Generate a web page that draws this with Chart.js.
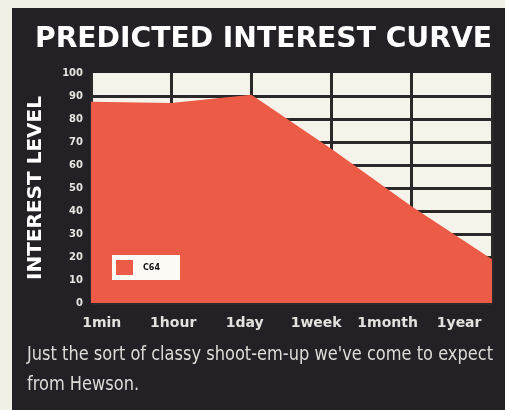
<!DOCTYPE html>
<html>
<head>
<meta charset="utf-8">
<title>Predicted interest curve</title>
<script src="https://cdn.jsdelivr.net/npm/chart.js@4"></script>
<style>
  html, body { margin: 0; padding: 0; background: #f3f0e6; }
  #curve { display: block; }
</style>
</head>
<body>
<canvas id="curve" width="505" height="410"></canvas>
<script>
const timeLabels = ['1min', '1hour', '1day', '1week', '1month', '1year'];
const interestC64 = [87.5, 87, 90.5, 67, 42, 19];
const levelMin = 0;
const levelMax = 100;
const levelStep = 10;
const caption = ['Just the sort of classy shoot-em-up we\'ve come to expect', 'from Hewson.'];

const PANEL = '#232126';
const PAPER = '#f5f3ea';
const RED = '#ec5b45';
const INK = '#2a2829';
const FACE = 'DejaVu Sans';

// draws text squeezed or stretched sideways to a given width, returns the x scale
function stretchText(ctx, text, x, y, width, sx) {
  if (!sx) sx = width / ctx.measureText(text).width;
  ctx.save();
  ctx.translate(x, y);
  ctx.scale(sx, 1);
  ctx.fillText(text, 0, 0);
  ctx.restore();
  return sx;
}

// dark panel behind everything, cream cells, headline and caption
const panel = {
  id: 'panel',
  beforeDraw(chart) {
    const {ctx, chartArea: a} = chart;
    ctx.save();
    ctx.fillStyle = PANEL;
    ctx.fillRect(12, 8, chart.width - 12, chart.height - 8);
    ctx.fillStyle = PAPER;
    ctx.fillRect(a.left, a.top, a.right - a.left, a.bottom - a.top);
    ctx.restore();
  },
  afterDraw(chart) {
    const ctx = chart.ctx;
    ctx.save();
    ctx.textBaseline = 'alphabetic';
    ctx.textAlign = 'left';
    ctx.fillStyle = '#ffffff';
    ctx.font = 'bold 28px "' + FACE + '"';
    stretchText(ctx, 'PREDICTED INTEREST CURVE', 35, 47, 457);

    ctx.fillStyle = '#dedcd7';
    ctx.font = '19px "Liberation Sans Narrow", "DejaVu Sans Condensed", "Liberation Sans"';
    const sx = stretchText(ctx, caption[0], 27, 360, 466);
    stretchText(ctx, caption[1], 27, 390, 0, sx);
    ctx.restore();
  }
};

// small boxed key sitting inside the plot, bottom left
const boxKey = {
  id: 'boxKey',
  afterDatasetsDraw(chart) {
    const {ctx, chartArea: a} = chart;
    const ds = chart.data.datasets[0];
    const x = a.left + 21;
    const y = a.bottom - 48;
    ctx.save();
    ctx.fillStyle = '#fbfaf4';
    ctx.fillRect(x, y, 68, 25);
    ctx.fillStyle = ds.backgroundColor;
    ctx.fillRect(x + 4, y + 5, 17, 15);
    ctx.fillStyle = '#111111';
    ctx.font = 'bold 8px "' + FACE + '"';
    ctx.textBaseline = 'middle';
    ctx.fillText(ds.label, x + 31, y + 13);
    ctx.restore();
  }
};

const ctx = document.getElementById('curve').getContext('2d');

const curveChart = new Chart(ctx, {
  type: 'line',
  data: {
    labels: timeLabels,
    datasets: [{
      label: 'C64',
      data: interestC64,
      fill: 'origin',
      backgroundColor: RED,
      borderColor: RED,
      borderWidth: 0,
      pointRadius: 0,
      tension: 0
    }]
  },
  options: {
    responsive: false,
    animation: false,
    layout: {
      padding: {left: 0, top: 73, right: 13, bottom: 67}
    },
    scales: {
      x: {
        type: 'category',
        offset: false,
        grid: {color: INK, lineWidth: 3, drawTicks: false},
        border: {display: false},
        ticks: {display: false},
        afterFit(s) { s.height = 0; }
      },
      when: {
        type: 'linear',
        position: 'bottom',
        min: -0.15,
        max: 5.46,
        afterBuildTicks(s) {
          s.ticks = timeLabels.map((_, i) => ({value: i}));
        },
        ticks: {
          callback: (v) => timeLabels[v],
          color: '#e4e2de',
          font: {family: FACE, weight: 'bold', size: 14},
          padding: 12,
          maxRotation: 0,
          autoSkip: false
        },
        grid: {display: false, drawTicks: false},
        border: {display: false},
        afterFit(s) { s.height = 40; }
      },
      y: {
        min: levelMin,
        max: levelMax,
        ticks: {
          stepSize: levelStep,
          color: '#e6e4df',
          font: {family: FACE, weight: 'bold', size: 10},
          padding: 8
        },
        grid: {
          // no rule along the very top edge of the cells
          color: (c) => c.tick && c.tick.value === levelMax ? 'rgba(0,0,0,0)' : INK,
          lineWidth: 3,
          drawTicks: false
        },
        border: {display: false},
        title: {
          display: true,
          text: 'INTEREST LEVEL',
          color: '#ffffff',
          font: {family: FACE, weight: 'bold', size: 20, lineHeight: 1},
          padding: {top: 26, bottom: 0}
        },
        afterFit(s) { s.width = 91; }
      }
    },
    plugins: {
      legend: {display: false},
      tooltip: {enabled: false}
    }
  },
  plugins: [panel, boxKey]
});
</script>
</body>
</html>
